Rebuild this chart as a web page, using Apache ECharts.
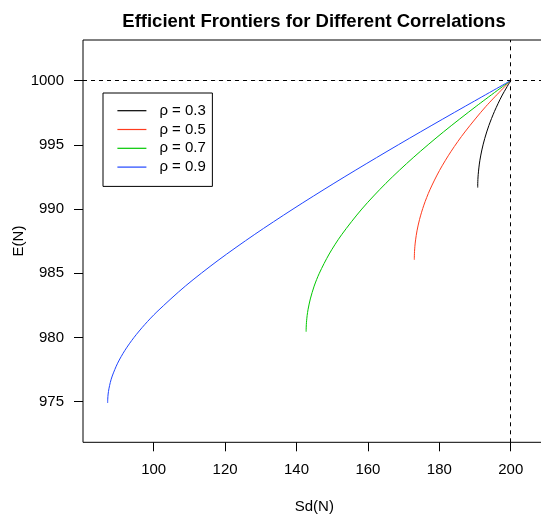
<!DOCTYPE html>
<html>
	<head>
		<meta charset="utf-8" />
		<title>Efficient Frontiers</title>
		<script type="text/javascript" src="https://cdn.jsdelivr.net/npm/echarts@6/dist/echarts.min.js"></script>
		<style>
			html, body { margin: 0; padding: 0; background: #fff; }
		</style>
	</head>
	<body>
		<div id="main" style="width:541px; height:517px;"></div>
		<script>
			// values, one pair of arrays per correlation
			var sd03 = [190.76, 190.76, 190.77, 190.81, 190.90, 191.08, 191.37, 191.92, 192.73, 193.88, 195.45, 197.50, 200];
			var e03  = [991.67, 991.8, 992.0, 992.3, 992.7, 993.2, 993.8, 994.6, 995.5, 996.5, 997.6, 998.8, 1000];

			var sd05 = [173.0, 173.0, 173.02, 173.06, 173.16, 173.36, 173.75, 174.47, 175.67, 177.37, 180.05, 183.32, 187.16, 193.09, 200];
			var e05  = [986.05, 986.2, 986.4, 986.7, 987.1, 987.6, 988.3, 989.2, 990.3, 991.5, 993.0, 994.5, 996.0, 998.0, 1000];

			var sd07 = [142.7, 142.7, 142.72, 142.75, 142.83, 142.98, 143.25, 143.87, 144.95, 146.39, 149.16, 152.64, 158.30, 165.02, 172.68, 181.15, 190.33, 200];
			var e07  = [980.45, 980.6, 980.8, 981.0, 981.3, 981.7, 982.2, 983.0, 984.0, 985.0, 986.5, 988.0, 990.0, 992.0, 994.0, 996.0, 998.0, 1000];

			var sd09 = [87.1, 87.13, 87.24, 87.46, 87.85, 88.39, 89.90, 91.94, 94.48, 97.48, 100.91, 108.86, 118.03, 128.16, 139.03, 150.48, 162.40, 174.68, 187.26, 200];
			var e09  = [974.9, 975.2, 975.6, 976.0, 976.5, 977.0, 978.0, 979.0, 980.0, 981.0, 982.0, 984.0, 986.0, 988.0, 990.0, 992.0, 994.0, 996.0, 998.0, 1000];

			var seriesNames = ['ρ = 0.3', 'ρ = 0.5', 'ρ = 0.7', 'ρ = 0.9'];
			var seriesColors = ['#000000', '#ff3b1e', '#00c800', '#1f45ff'];
			var xTicks = [100, 120, 140, 160, 180, 200];
			var yTicks = [975, 980, 985, 990, 995, 1000];
			var refSd = 200;
			var refE = 1000;

			function pairs(xs, ys) {
				var out = [];
				for (var i = 0; i < xs.length; i++) {
					out.push([xs[i], ys[i]]);
				}
				return out;
			}

			var curves = [pairs(sd03, e03), pairs(sd05, e05), pairs(sd07, e07), pairs(sd09, e09)];

			var series = [];
			for (var k = 0; k < curves.length; k++) {
				series.push({
					name: seriesNames[k],
					type: 'line',
					data: curves[k],
					symbol: 'none',
					smooth: 0.3,
					lineStyle: { color: seriesColors[k], width: 1 },
					itemStyle: { color: seriesColors[k] },
					z: 3
				});
			}
			// dashed reference lines at Sd = 200 and E = 1000
			series.push({
				type: 'line',
				data: [],
				silent: true,
				markLine: {
					symbol: 'none',
					silent: true,
					label: { show: false },
					lineStyle: { color: '#000', type: [4, 4], width: 1 },
					data: [{ xAxis: refSd }, { yAxis: refE }]
				}
			});

			var font = '"Liberation Sans", Arial, Helvetica, sans-serif';
			var chart = echarts.init(document.getElementById('main'), null, { renderer: 'canvas' });

			chart.setOption({
				animation: false,
				backgroundColor: '#fff',
				graphic: [{
					type: 'text',
					x: 314,
					y: 21.5,
					style: {
						text: 'Efficient Frontiers for Different Correlations',
						fontFamily: font,
						fontSize: 18.5,
						fontWeight: 'bold',
						fill: '#000',
						textAlign: 'center',
						textVerticalAlign: 'middle'
					}
				}, {
					// y axis title, rotated like R's ylab
					type: 'text',
					x: 19,
					y: 241,
					rotation: Math.PI / 2,
					style: {
						text: 'E(N)',
						fontFamily: font,
						fontSize: 15,
						fill: '#000',
						textAlign: 'center',
						textVerticalAlign: 'middle'
					}
				}],
				legend: {
					orient: 'vertical',
					left: 103,
					top: 93,
					padding: [10.2, 6.5, 11.8, 14.4],
					itemWidth: 29,
					itemHeight: 1.2,
					itemGap: 3.8,
					icon: 'rect',
					borderColor: '#000',
					borderWidth: 1,
					data: seriesNames,
					textStyle: {
						fontFamily: font,
						fontSize: 15,
						color: '#000',
						lineHeight: 15,
						padding: [0, 0, 0, 8]
					}
				},
				grid: {
					left: 83,
					top: 40,
					right: -4.7,
					bottom: 74.7,
					outerBoundsMode: 'none',
					containLabel: false,
					show: true,
					borderColor: '#000',
					borderWidth: 1,
					backgroundColor: 'transparent'
				},
				xAxis: {
					type: 'value',
					min: 80.2,
					max: 209.8,
					name: 'Sd(N)',
					nameLocation: 'middle',
					nameGap: 57,
					nameTextStyle: { fontFamily: font, fontSize: 15, color: '#000' },
					axisLine: { show: false },
					splitLine: { show: false },
					axisTick: {
						show: true,
						length: 9,
						customValues: xTicks,
						lineStyle: { color: '#000', width: 1 }
					},
					axisLabel: {
						customValues: xTicks,
						margin: 20,
						fontFamily: font,
						fontSize: 15,
						color: '#000',
						formatter: function (v) { return String(v); }
					}
				},
				yAxis: {
					type: 'value',
					min: 971.84,
					max: 1003.16,
					axisLine: { show: false },
					splitLine: { show: false },
					axisTick: {
						show: true,
						length: 9,
						customValues: yTicks,
						lineStyle: { color: '#000', width: 1 }
					},
					axisLabel: {
						customValues: yTicks,
						margin: 19,
						fontFamily: font,
						fontSize: 15,
						color: '#000',
						formatter: function (v) { return String(v); }
					}
				},
				series: series
			});
		</script>
	</body>
</html>
